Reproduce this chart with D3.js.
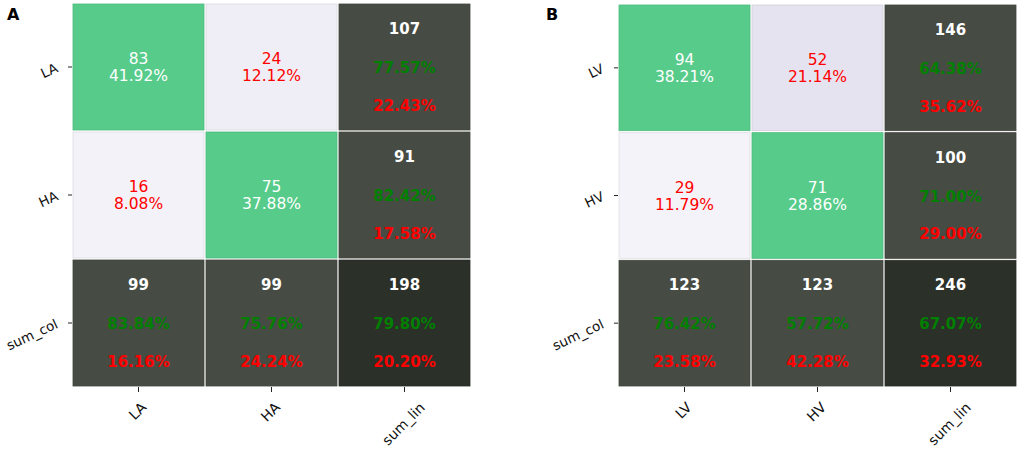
<!DOCTYPE html>
<html>
<head>
<meta charset="utf-8">
<script src="https://cdn.jsdelivr.net/npm/d3@7"></script>
<style>
  body { margin: 0; background: #fff; }
  svg text { font-family: "DejaVu Sans", sans-serif; }
</style>
</head>
<body>
<div id="chart"></div>
<script>
// panel A
var labels_a = ['LA', 'HA'];
var counts_a = [[83, 24], [16, 75]];
// panel B
var labels_b = ['LV', 'HV'];
var counts_b = [[94, 52], [29, 71]];

var sum_row_label = 'sum_col';
var sum_col_label = 'sum_lin';

var fill_diag = '#56cb8a';
var fill_sum = '#464b43';
var fill_total = '#2b3029';
var color_ok = '#008000';
var color_err = '#ff0000';

var svg = d3.select('#chart').append('svg')
    .attr('width', 1021)
    .attr('height', 453);

function pct(v) { return (v * 100).toFixed(2) + '%'; }

function drawMatrix(letter, labels, counts, box) {
    var n = labels.length;
    var cols = labels.concat([sum_col_label]);
    var rows = labels.concat([sum_row_label]);
    var total = d3.sum(counts, function(r) { return d3.sum(r); });
    var rowSums = counts.map(function(r) { return d3.sum(r); });
    var colSums = labels.map(function(_, j) { return d3.sum(counts, function(r) { return r[j]; }); });
    var diagSum = d3.sum(labels, function(_, i) { return counts[i][i]; });

    var offVals = [];
    counts.forEach(function(r, i) { r.forEach(function(v, j) { if (i !== j) offVals.push(v); }); });
    var offdiag = d3.scaleLinear().domain(d3.extent(offVals)).range(box.offRange);

    var x = d3.scaleBand().domain(cols).range([box.x0, box.x1]);
    var y = d3.scaleBand().domain(rows).range([box.y0, box.y1]);

    var g = svg.append('g');

    var cells = [];
    rows.forEach(function(r, i) {
        cols.forEach(function(c, j) {
            var cell = {row: r, col: c, i: i, j: j};
            if (i < n && j < n) {
                cell.kind = i === j ? 'diag' : 'off';
                cell.value = counts[i][j];
                cell.fill = i === j ? fill_diag : offdiag(cell.value);
                cell.lines = [cell.value, pct(cell.value / total)];
            } else {
                var sumv, okv;
                if (i < n) { sumv = rowSums[i]; okv = counts[i][i] / sumv; }
                else if (j < n) { sumv = colSums[j]; okv = counts[j][j] / sumv; }
                else { sumv = total; okv = diagSum / total; }
                cell.kind = 'sum';
                cell.fill = (i === n && j === n) ? fill_total : fill_sum;
                cell.lines = [sumv, pct(okv), pct(1 - okv)];
            }
            cells.push(cell);
        });
    });

    var cg = g.selectAll('g.cell').data(cells).enter().append('g')
        .attr('class', 'cell')
        .attr('transform', function(d) { return 'translate(' + x(d.col) + ',' + y(d.row) + ')'; });

    cg.append('rect')
        .attr('x', 1).attr('y', 1)
        .attr('width', x.bandwidth() - 2)
        .attr('height', y.bandwidth() - 2)
        .attr('fill', function(d) { return d.fill; })
        .attr('stroke', function(d) { return d3.color(d.fill).darker(0.25); })
        .attr('stroke-width', 0.8);

    var bw = x.bandwidth(), bh = y.bandwidth();

    // plain cells: two centred lines
    cg.filter(function(d) { return d.kind !== 'sum'; })
        .each(function(d) {
            var t = d3.select(this);
            d.lines.forEach(function(s, k) {
                t.append('text')
                    .attr('x', bw / 2)
                    .attr('y', bh / 2 + (k === 0 ? -8.5 : 8.5))
                    .attr('dy', '0.36em')
                    .attr('text-anchor', 'middle')
                    .attr('font-size', 15.5)
                    .attr('fill', d.kind === 'diag' ? '#fff' : color_err)
                    .text(s);
            });
        });

    // summary cells: count, correct %, error %
    var sumPos = [0.2, 0.505, 0.8];
    var sumCol = ['#fff', color_ok, color_err];
    cg.filter(function(d) { return d.kind === 'sum'; })
        .each(function(d) {
            var t = d3.select(this);
            d.lines.forEach(function(s, k) {
                t.append('text')
                    .attr('x', bw / 2)
                    .attr('y', bh * sumPos[k])
                    .attr('dy', '0.36em')
                    .attr('text-anchor', 'middle')
                    .attr('font-size', 15)
                    .attr('font-weight', 'bold')
                    .attr('fill', sumCol[k])
                    .text(s);
            });
        });

    // y axis
    var ya = g.append('g').attr('transform', 'translate(' + box.x0 + ',0)')
        .call(d3.axisLeft(y).tickSize(4).tickPadding(11));
    ya.select('.domain').remove();
    ya.selectAll('line').attr('stroke', '#222');
    ya.selectAll('text')
        .attr('font-size', 13.5)
        .attr('fill', '#111')
        .attr('dy', '0.35em')
        .attr('transform', 'rotate(-25,-15,0)');

    // x axis, labels centred on the tick after rotation
    var xa = g.append('g').attr('transform', 'translate(0,' + box.y1 + ')')
        .call(d3.axisBottom(x).tickSize(5).tickPadding(0));
    xa.select('.domain').remove();
    xa.selectAll('line').attr('stroke', '#222');
    xa.selectAll('text')
        .attr('font-size', 14)
        .attr('fill', '#111')
        .attr('text-anchor', 'middle')
        .attr('dy', '0.35em')
        .attr('x', -1)
        .attr('y', function() {
            var L = this.getComputedTextLength();
            return 14 + (L + 11) * 0.7071 / 2;
        })
        .attr('transform', function() {
            var yc = +d3.select(this).attr('y');
            return 'rotate(-45,-1,' + yc + ')';
        });

    svg.append('text')
        .attr('x', box.letterX).attr('y', 20)
        .attr('font-size', 16)
        .attr('font-weight', 'bold')
        .attr('font-family', 'Liberation Sans, Arial, sans-serif')
        .text(letter);
}

drawMatrix('A', labels_a, counts_a, {x0: 72, x1: 471, y0: 3, y1: 387, letterX: 7, offRange: ['#f3f2f8', '#efeef6']});
drawMatrix('B', labels_b, counts_b, {x0: 618, x1: 1017, y0: 4, y1: 387, letterX: 546, offRange: ['#f4f3f9', '#e6e3f1']});
</script>
</body>
</html>
